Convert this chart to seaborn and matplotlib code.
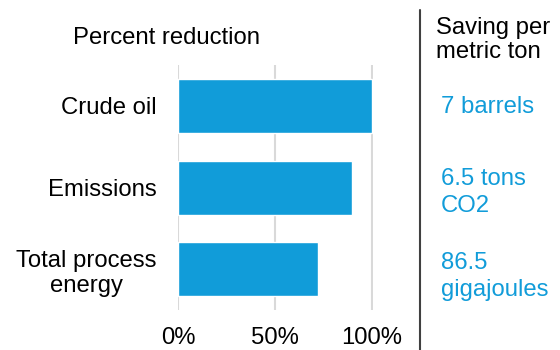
import matplotlib
matplotlib.use("Agg")
import matplotlib.pyplot as plt
import seaborn as sns
import pandas as pd

categories = ["Crude oil", "Emissions", "Total process\nenergy"]
reduction_pct = [100, 90, 72]
savings = ["7 barrels", "6.5 tons\nCO2", "86.5\ngigajoules"]
x_ticks = [0, 50, 100]
x_ticklabels = ["0%", "50%", "100%"]

sns.set_theme(style="white")
plt.rcParams["font.family"] = ["Liberation Sans", "DejaVu Sans"]

BLUE = "#119CD9"
FS = 17.2

df = pd.DataFrame({"category": categories, "value": reduction_pct})

fig = plt.figure(figsize=(5.6, 3.5), dpi=100)
ax = fig.add_axes([0.317, 0.114, 0.3485, 0.700])

sns.barplot(data=df, x="value", y="category", orient="h", color=BLUE,
            saturation=1, width=0.66, ax=ax, zorder=3)

ax.set_xlim(-0.5, 100.5)
ax.set_ylim(2.5, -0.5)
ax.set_xticks(x_ticks)
ax.set_xticklabels(x_ticklabels)
ax.grid(axis="x", color="#d9d9d9", linewidth=1.5, zorder=0)
ax.grid(axis="y", visible=False)
for s in ax.spines.values():
    s.set_visible(False)
ax.set_xlabel("")
ax.set_ylabel("")
ax.tick_params(axis="y", length=0, pad=15, labelsize=FS, labelcolor="black")
ax.tick_params(axis="x", length=0, pad=12, labelsize=FS, labelcolor="black")
for lbl in ax.get_yticklabels():
    lbl.set_multialignment("center")

fig.text(166.5 / 560, 1 - 38 / 350, "Percent reduction", ha="center", va="center",
         fontsize=FS, color="black")

# divider line
fig.add_artist(plt.Line2D([419.5 / 560, 419.5 / 560], [0, 1 - 10 / 350],
                          color="#404040", linewidth=1.5, transform=fig.transFigure))

fig.text(436 / 560, 1 - 40 / 350, "Saving per\nmetric ton", ha="left", va="center",
         fontsize=FS, color="black", linespacing=1.15)

offsets = [1, 5, 7]
for i, (txt, off) in enumerate(zip(savings, offsets)):
    ax.annotate(txt, xy=(441 / 560, i), xycoords=("figure fraction", "data"),
                xytext=(0, -off * 0.72), textcoords="offset points",
                ha="left", va="center", fontsize=FS, color=BLUE, linespacing=1.28,
                annotation_clip=False)

fig.savefig("out.png", dpi=100)
